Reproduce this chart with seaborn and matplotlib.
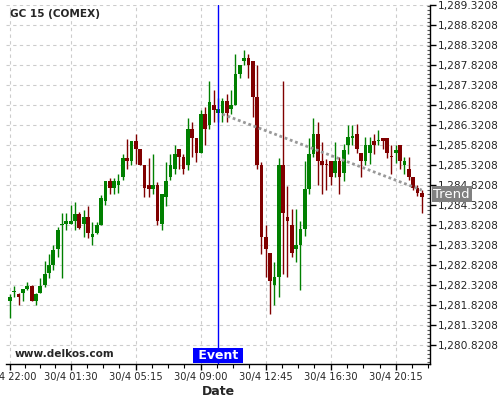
import numpy as np
import pandas as pd
import matplotlib
matplotlib.use("Agg")
import matplotlib.pyplot as plt
import matplotlib.dates as mdates
from matplotlib.ticker import FuncFormatter, MultipleLocator
import seaborn as sns

# -------------------------
# Data (15 min candles, 29/4 22:00 -> 30/4 21:45)
# -------------------------

start_time = "2015-04-29 22:00"

opens = [
    1281.93, 1282.14, 1282.11, 1282.13, 1282.22, 1282.31, 1281.93, 1282.13, 1282.32, 1282.63,
    1282.82, 1283.22, 1283.83, 1283.84, 1283.84, 1283.92, 1284.11, 1283.84, 1284.03, 1283.53,
    1283.63, 1283.82, 1284.43, 1284.92, 1284.74, 1284.84, 1285.03, 1285.51, 1285.43, 1285.93,
    1285.72, 1285.32, 1284.82, 1284.72, 1284.82, 1283.84, 1284.53, 1285.03, 1285.22, 1285.72,
    1285.53, 1285.32, 1286.22, 1286.01, 1285.63, 1286.61, 1286.32, 1286.82, 1286.63, 1286.63,
    1286.92, 1286.72, 1286.82, 1287.61, 1287.93, 1288.01, 1287.93, 1287.03, 1285.32, 1283.53,
    1283.13, 1282.32, 1282.53, 1285.32, 1284.03, 1283.82, 1283.22, 1283.32, 1283.72, 1284.72,
    1285.61, 1286.11, 1285.42, 1285.35, 1285.42, 1285.13, 1285.42, 1285.13, 1285.82, 1286.01,
    1286.11, 1285.63, 1285.43, 1285.62, 1285.92, 1285.92, 1286.01, 1286.01, 1285.56, 1285.63,
    1285.82, 1285.32, 1285.22, 1285.03, 1284.74, 1284.63,
]
highs = [
    1282.11, 1282.31, 1282.12, 1282.22, 1282.40, 1282.33, 1282.12, 1282.51, 1282.92, 1283.11,
    1283.32, 1283.78, 1284.13, 1284.13, 1284.32, 1284.40, 1284.15, 1284.20, 1284.30, 1283.90,
    1283.90, 1284.57, 1284.92, 1285.00, 1285.00, 1285.11, 1285.61, 1285.99, 1285.93, 1286.11,
    1285.72, 1285.32, 1285.51, 1285.61, 1284.90, 1284.61, 1285.40, 1285.61, 1285.82, 1285.72,
    1285.61, 1286.51, 1286.40, 1286.01, 1286.71, 1286.78, 1287.42, 1287.21, 1287.01, 1287.01,
    1287.11, 1287.21, 1288.11, 1287.82, 1288.21, 1288.11, 1287.93, 1287.82, 1285.40, 1283.82,
    1283.13, 1282.90, 1285.51, 1287.43, 1284.80, 1284.22, 1284.22, 1283.92, 1285.42, 1286.01,
    1286.51, 1286.40, 1285.90, 1285.49, 1285.42, 1285.90, 1285.53, 1285.86, 1286.32, 1286.32,
    1286.36, 1285.63, 1286.03, 1286.03, 1286.11, 1286.21, 1286.01, 1286.01, 1285.82, 1285.82,
    1285.82, 1285.53, 1285.53, 1285.03, 1284.82, 1284.70,
]
lows = [
    1281.50, 1282.03, 1281.82, 1281.92, 1282.20, 1281.93, 1281.82, 1282.12, 1282.28, 1282.51,
    1282.70, 1283.03, 1282.51, 1283.71, 1283.84, 1283.71, 1283.72, 1283.53, 1283.50, 1283.32,
    1283.61, 1283.82, 1284.32, 1284.61, 1284.61, 1284.63, 1284.95, 1285.22, 1285.32, 1285.35,
    1285.32, 1284.53, 1284.53, 1284.61, 1283.82, 1283.70, 1284.30, 1284.95, 1285.11, 1285.22,
    1285.11, 1285.20, 1285.53, 1285.40, 1285.63, 1285.82, 1286.24, 1286.40, 1286.40, 1286.40,
    1286.40, 1286.61, 1286.82, 1287.51, 1287.82, 1287.51, 1286.53, 1285.24, 1283.11, 1282.53,
    1281.61, 1281.82, 1282.03, 1282.61, 1282.53, 1283.03, 1282.90, 1282.21, 1283.55, 1284.61,
    1285.53, 1284.82, 1284.61, 1284.71, 1284.82, 1285.03, 1284.61, 1284.93, 1285.61, 1285.82,
    1285.62, 1285.03, 1285.32, 1285.35, 1285.61, 1285.82, 1285.72, 1285.51, 1285.11, 1285.37,
    1285.24, 1285.11, 1284.95, 1284.70, 1284.55, 1284.13,
]
closes = [
    1282.03, 1282.15, 1282.03, 1282.22, 1282.31, 1281.93, 1282.11, 1282.31, 1282.61, 1282.82,
    1283.21, 1283.71, 1283.86, 1283.92, 1283.92, 1284.11, 1283.74, 1284.03, 1283.63, 1283.61,
    1283.82, 1284.51, 1284.92, 1284.74, 1284.92, 1284.92, 1285.51, 1285.42, 1285.93, 1285.72,
    1285.32, 1284.74, 1284.72, 1284.82, 1283.92, 1284.61, 1284.92, 1285.32, 1285.61, 1285.53,
    1285.22, 1286.22, 1286.01, 1285.63, 1286.61, 1286.22, 1286.91, 1286.71, 1286.72, 1286.92,
    1286.63, 1286.82, 1287.61, 1287.82, 1288.01, 1287.84, 1287.03, 1285.32, 1283.53, 1283.22,
    1282.43, 1282.53, 1285.32, 1284.13, 1283.93, 1283.13, 1283.32, 1283.72, 1284.72, 1285.61,
    1286.11, 1285.42, 1285.32, 1285.32, 1285.03, 1285.42, 1285.03, 1285.71, 1286.03, 1286.05,
    1285.72, 1285.43, 1285.82, 1285.82, 1285.82, 1285.95, 1285.92, 1285.63, 1285.54, 1285.71,
    1285.43, 1285.43, 1285.03, 1284.74, 1284.63, 1284.53,
]

event_time = "2015-04-30 10:00"
trend_times = ["2015-04-30 10:15", "2015-04-30 21:45"]
trend_values = [1286.60, 1284.70]

major_ticks = ["2015-04-29 22:00", "2015-04-30 01:30", "2015-04-30 05:15",
               "2015-04-30 09:00", "2015-04-30 12:45", "2015-04-30 16:30",
               "2015-04-30 20:15"]

y_ticks = np.arange(1280.8208, 1289.33, 0.5)


def main():

    times = pd.date_range(start_time, periods=len(opens), freq="15min")
    df = pd.DataFrame({"time": times, "open": opens, "high": highs,
                       "low": lows, "close": closes})
    up = df["close"] >= df["open"]
    colors = np.where(up, "#008000", "#800000")

    sns.set_style("white")
    plt.rcParams["font.family"] = ["DejaVu Sans"]

    fig = plt.figure(figsize=(5, 4), dpi=100)
    ax = fig.add_axes([0.012, 0.09, 0.848, 0.8975])

    x = mdates.date2num(df["time"])
    day_step = 1 / 96

    # wicks + bodies
    ax.vlines(x, df["low"], df["high"], colors=colors, linewidth=1, zorder=3)
    body = (df["close"] - df["open"]).abs().clip(lower=0.025)
    bottom = df[["open", "close"]].min(axis=1)
    ax.bar(x, body, bottom=bottom, width=day_step * 0.85, color=colors,
           linewidth=0, zorder=4)

    # trend
    sns.lineplot(x=pd.to_datetime(trend_times), y=trend_values, ax=ax,
                 color="#999999", linestyle=(0, (1, 1)), linewidth=2, zorder=5)

    # event
    ev = mdates.date2num(pd.Timestamp(event_time))
    ax.axvline(ev, color="#0000ff", linewidth=1, zorder=6)
    ax.annotate(" Event ", xy=(ev, 0), xycoords=("data", "axes fraction"),
                xytext=(0, 1.6), textcoords="offset points",
                ha="center", va="bottom", color="white", fontsize=9,
                fontweight="bold",
                bbox=dict(boxstyle="square,pad=0.08", fc="#0000ff", ec="none"),
                zorder=7)

    ax.annotate("Trend", xy=(1, trend_values[-1] - 0.1),
                xycoords=("axes fraction", "data"),
                xytext=(2.5, 0), textcoords="offset points",
                ha="left", va="center", color="white", fontsize=9.5,
                bbox=dict(boxstyle="square,pad=0.12", fc="#808080", ec="none"),
                annotation_clip=False, zorder=7)

    # axes
    x0 = x[0] - 0.92 * day_step
    x1 = x[0] + 96.9 * day_step
    ax.set_xlim(x0, x1)
    ax.set_ylim(1280.35, 1289.33)

    majors = mdates.date2num(pd.to_datetime(major_ticks))
    minors = []
    for a, b in zip(majors[:-1], majors[1:]):
        minors.extend(np.linspace(a, b, 5)[1:-1])
    d = majors[-1] - majors[-2]
    minors.extend([majors[-1] + d / 4, majors[-1] + d / 2])
    ax.set_xticks(majors)
    ax.set_xticks(minors, minor=True)
    ax.xaxis.set_major_formatter(FuncFormatter(
        lambda v, p: "{}/{} {}".format(mdates.num2date(v).day,
                                       mdates.num2date(v).month,
                                       mdates.num2date(v).strftime("%H:%M"))))

    ax.yaxis.tick_right()
    ax.set_yticks(y_ticks)
    ax.yaxis.set_minor_locator(MultipleLocator(0.1))
    ax.yaxis.set_major_formatter(FuncFormatter(lambda v, p: f"{v:,.4f}"))

    ax.tick_params(axis="x", which="major", labelsize=7.1, length=4,
                   width=1, color="black", direction="out", pad=2)
    ax.tick_params(axis="x", which="minor", length=3, width=0.8,
                   color="black", direction="out")
    ax.tick_params(axis="y", which="major", labelsize=7.7, length=4.5,
                   width=1, color="black", direction="out", pad=0.8)
    ax.tick_params(axis="y", which="minor", length=2.5, width=0.8,
                   color="#555555", direction="in")
    ax.tick_params(axis="x", bottom=True, which="both")
    ax.tick_params(axis="y", right=True, left=False, which="both")

    ax.grid(True, which="major", color="#cccccc", linestyle=(0, (3, 3)),
            linewidth=0.8)
    ax.set_axisbelow(True)

    for side in ["left", "top"]:
        ax.spines[side].set_visible(False)
    for side in ["bottom", "right"]:
        ax.spines[side].set_color("black")
        ax.spines[side].set_linewidth(1)

    ax.set_xlabel("Date", fontsize=9, fontweight="bold", labelpad=2)
    ax.set_ylabel("")

    ax.text(0.009, 0.975, "GC 15 (COMEX)", transform=ax.transAxes,
            fontsize=7.6, fontweight="bold", ha="left", va="center")
    ax.text(0.021, 0.028, "www.delkos.com", transform=ax.transAxes,
            fontsize=7.6, fontweight="bold", ha="left", va="center")

    fig.savefig("out.png", dpi=100)
    plt.close(fig)


if __name__ == "__main__":
    main()
